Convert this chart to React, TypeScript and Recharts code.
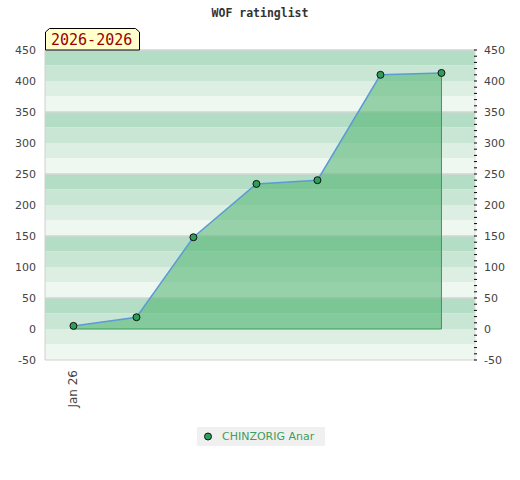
import { ComposedChart, Area, Line, XAxis, YAxis, ReferenceArea, ReferenceLine } from 'recharts';

// rating per month, x is day offset from Jan 1
const months = ['Jan', 'Feb', 'Mar', 'Apr', 'May', 'Jun', 'Jul'];
const dayOffsets = [0, 31, 59, 90, 120, 151, 181];
const ratings = [5, 19, 148, 234, 240, 410, 413];

const yTicks = [-50, 0, 50, 100, 150, 200, 250, 300, 350, 400, 450];
const minorTicks = Array.from({ length: 51 }, (_, i) => -50 + i * 10);
const xTicks = [0];
const xTickLabels = ['Jan 26'];

const bandColors = ['#b3ddc4', '#c8e6d3', '#ddefe3', '#eff7f1'];
const bandEdges = [450, 425, 400, 375, 350, 325, 300, 275, 250, 225, 200, 175, 150, 125, 100, 75, 50, 25, 0, -25, -50];
const separators = [450, 350, 250, 150, 50];

const data = months.map((m, i) => ({ month: m, day: dayOffsets[i], rating: ratings[i] }));

const font = 'DejaVu Sans, Verdana, sans-serif';
const mono = 'DejaVu Sans Mono, monospace';

const Dot = (props: any) => {
  const { cx, cy } = props;
  return <circle cx={cx} cy={cy} r={3.5} fill="#2e9e5a" stroke="#111" strokeWidth={1} />;
};

const RightTick = (props: any) => {
  const { x, y, payload } = props;
  return (
    <g>
      <line x1={x - 3} x2={x} y1={y} y2={y} stroke="#000" strokeWidth={1} />
      {payload.value % 50 === 0 && (
        <text x={x + 7} y={y + 4} fontSize={11} fill="#444" fontFamily={font}>{payload.value}</text>
      )}
    </g>
  );
};

const XTick = (props: any) => {
  const { x, y, payload } = props;
  const idx = xTicks.indexOf(payload.value);
  return (
    <text x={x + 4} y={y + 2} transform={`rotate(-90 ${x + 4} ${y + 2})`} textAnchor="end" fontSize={12} fill="#444" fontFamily={font}>
      {xTickLabels[idx]}
    </text>
  );
};

export default function App() {
  const first = data[0];
  const last = data[data.length - 1];
  return (
    <div style={{ position: 'absolute', left: 0, top: 0, width: 520, height: 480, background: '#fff' }}>
      <ComposedChart width={520} height={480} data={data} margin={{ top: 50, right: 0, left: 0, bottom: 0 }}>
        {bandEdges.slice(0, -1).map((top, i) => (
          <ReferenceArea key={top} yAxisId="l" y1={bandEdges[i + 1]} y2={top} fill={bandColors[i % 4]} fillOpacity={1} stroke="none" ifOverflow="extendDomain" zIndex={-20} />
        ))}
        {separators.map((v) => (
          <ReferenceLine key={v} yAxisId="l" y={v} stroke="#d4d4d4" strokeWidth={1.5} zIndex={-10} />
        ))}
        <XAxis dataKey="day" type="number" domain={[-14, 197.5]} ticks={xTicks} height={120} tick={<XTick />} tickLine={false} axisLine={{ stroke: '#d0d0d0' }} allowDataOverflow />
        <YAxis yAxisId="l" orientation="left" width={45} domain={[-50, 450]} ticks={yTicks} tickSize={0} tickMargin={9} tickLine={false} axisLine={{ stroke: '#d0d0d0' }} tick={{ fontSize: 11, fill: '#444', fontFamily: font }} allowDataOverflow />
        <YAxis yAxisId="r" orientation="right" width={45} domain={[-50, 450]} ticks={minorTicks} interval={0} tickLine={false} tickSize={0} axisLine={{ stroke: '#dddddd' }} tick={<RightTick />} allowDataOverflow />
        <Area yAxisId="l" dataKey="rating" type="linear" baseValue={0} fill="#4fb270" fillOpacity={0.55} stroke="none" isAnimationActive={false} />
        <ReferenceLine yAxisId="l" segment={[{ x: first.day, y: 0 }, { x: last.day, y: 0 }]} stroke="#3a9a5a" strokeWidth={1} />
        <ReferenceLine yAxisId="l" segment={[{ x: last.day, y: 0 }, { x: last.day, y: last.rating }]} stroke="#3a9a5a" strokeWidth={1} />
        <Line yAxisId="l" dataKey="rating" type="linear" stroke="#5b9bd5" strokeWidth={1.5} dot={<Dot />} activeDot={false} isAnimationActive={false} />
      </ComposedChart>
      <svg width={520} height={480} style={{ position: 'absolute', left: 0, top: 0, pointerEvents: 'none' }}>
        <text x={260} y={17} textAnchor="middle" fontSize={11.5} fontWeight="bold" fill="#333" fontFamily={mono}>WOF ratinglist</text>
        <path d="M45.5,50 L45.5,32 L49.5,28.5 L135.5,28.5 L139.5,32 L139.5,50 Z" fill="#ffffcc" stroke="#000" strokeWidth={1} />
        <text x={51} y={45} fontSize={15} fill="#990000" fontFamily={mono}>2026-2026</text>
      </svg>
      <div style={{ position: 'absolute', left: 197, top: 427, width: 128, height: 19, background: '#f0f0f0', display: 'flex', alignItems: 'center', fontFamily: font, fontSize: 11, color: '#3d9d5c' }}>
        <svg width={22} height={19} style={{ flex: 'none' }}>
          <circle cx={11} cy={9.5} r={3.5} fill="#2e9e5a" stroke="#111" strokeWidth={1} />
        </svg>
        <span style={{ marginLeft: 3 }}>CHINZORIG Anar</span>
      </div>
    </div>
  );
}
